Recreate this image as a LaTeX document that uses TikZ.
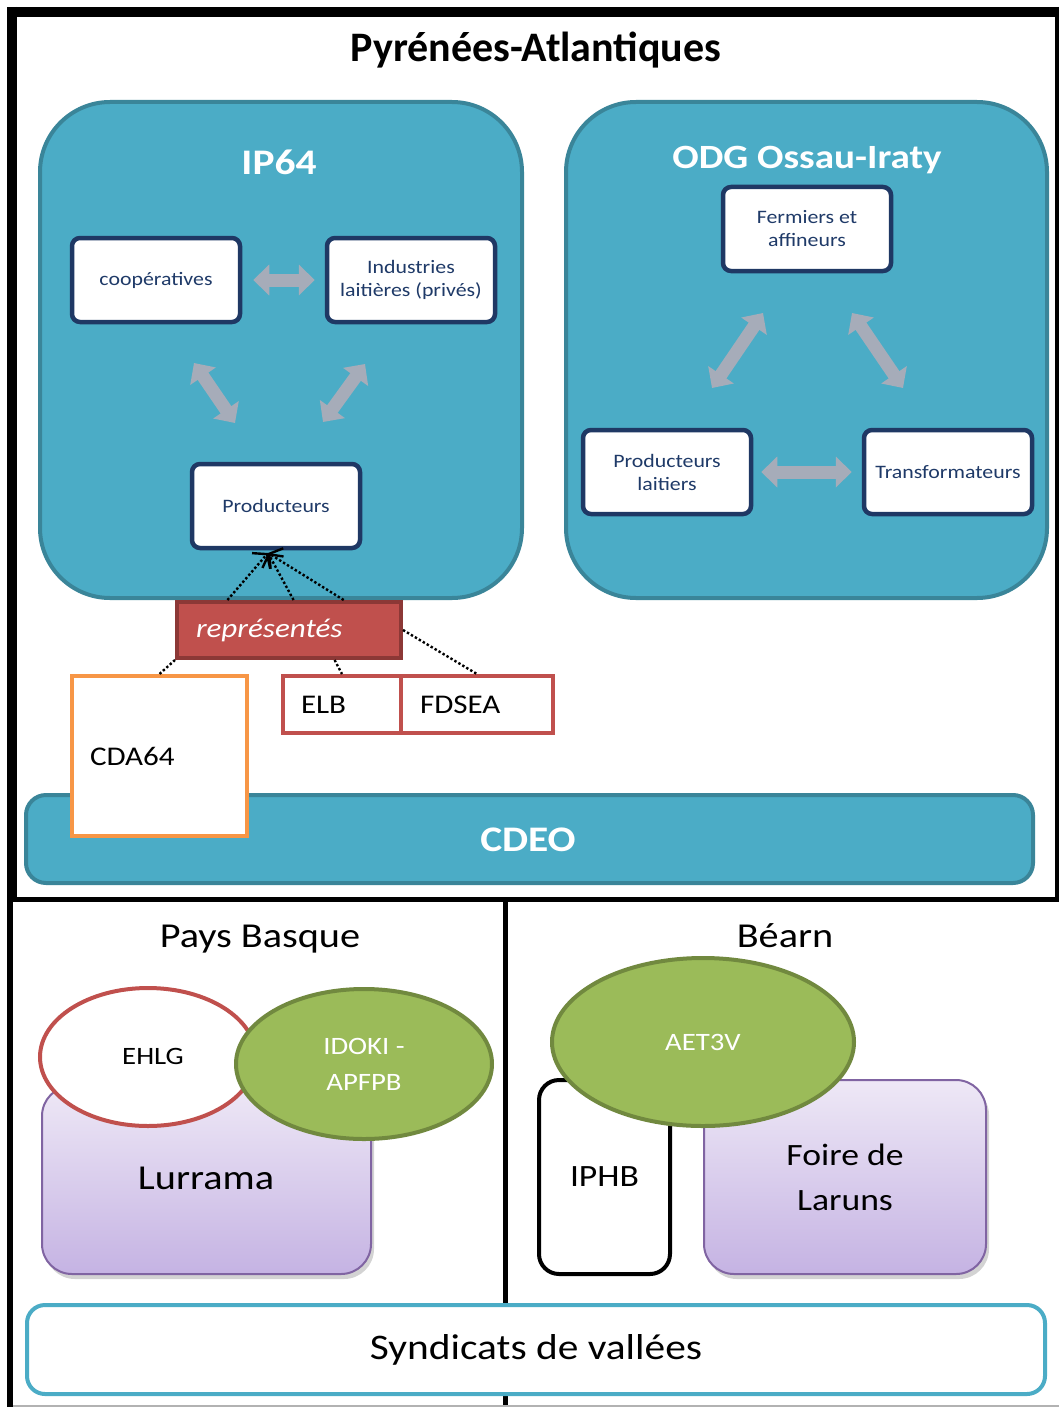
\documentclass[tikz,border=0pt]{standalone}
\usepackage{fontspec}
\setmainfont{Carlito}[FakeStretch=1.15]
\newfontfamily\titlefont{Carlito}
\usetikzlibrary{arrows.meta,calc,shapes.geometric,shadows}
\definecolor{aqua}{HTML}{4BACC6}
\definecolor{aquadark}{HTML}{3A8599}
\definecolor{navy}{HTML}{1F3864}
\definecolor{navytxt}{HTML}{1F3A68}
\definecolor{arrgray}{HTML}{A6ACB9}
\definecolor{redfill}{HTML}{C0504D}
\definecolor{reddark}{HTML}{8C3836}
\definecolor{orng}{HTML}{F79646}
\definecolor{grn}{HTML}{9BBB59}
\definecolor{grndark}{HTML}{71893F}
\definecolor{purp}{HTML}{8064A2}
\definecolor{purptop}{HTML}{EEE8F6}
\definecolor{purpbot}{HTML}{C5B3E3}
\begin{document}
\begin{tikzpicture}[x=1pt, y=-1pt,
    grp/.style={draw=aquadark, fill=aqua, line width=4pt, rounded corners=70pt, inner sep=0pt},
    hd/.style={text=white, font=\bfseries\fontsize{34}{40}\selectfont},
    box/.style={draw=navy, fill=white, line width=4.5pt, rounded corners=8pt, minimum width=168pt,
      minimum height=84pt, inner sep=0pt, align=center, text=navytxt, font=\fontsize{19}{23}\selectfont},
    dbl/.style={draw=arrgray, line width=13pt, {Triangle[width=30pt,length=16pt]}-{Triangle[width=30pt,length=16pt]}},
    lbl/.style={align=left, inner ysep=0pt, font=\fontsize{27}{32}\selectfont},
    pt/.style={line width=2.4pt, dash pattern=on 2.4pt off 2.2pt},
    oval/.style={ellipse, line width=4pt, inner sep=0pt, align=center, font=\fontsize{25}{36}\selectfont},
    lila/.style={draw=purp, line width=2pt, top color=purptop, bottom color=purpbot, rounded corners=30pt,
      drop shadow={shadow xshift=3pt, shadow yshift=-5pt, opacity=0.35}, inner sep=0pt, align=center},
    big/.style={font=\fontsize{35}{45}\selectfont}]
  \useasboundingbox (0,0) rectangle (1059,1407);
  % frames
  \draw[line width=10pt] (7,12.5) -- (1059,12.5);
  \draw[line width=10pt] (12,7) -- (12,901);
  \draw[line width=4pt] (1057,7) -- (1057,899);
  \draw[line width=5pt] (7,899) -- (1059,899);
  \draw[line width=6pt] (10,899) -- (10,1407);
  \draw[line width=5pt] (505.5,899) -- (505.5,1407);
  \draw[gray!60, line width=1.5pt] (13,1406) -- (1059,1406);
  \node[font=\titlefont\bfseries\fontsize{42}{50}\selectfont, anchor=base] (pa) at (536,62) {Pyrénées-Atlantiques};

  % IP64
  \node[grp, minimum width=482pt, minimum height=496pt] (ip) at (281,350) {};
  \node[hd, font=\bfseries\fontsize{36}{40}\selectfont] (iptl) at (279,162) {IP64};
  \node[box] (coop) at (156,280) {coopératives};
  \node[box] (indus) at (411,280) {Industries\\laitières (privés)};
  \node[box] (prod) at (276,506) {Producteurs};
  \coordinate (c1) at (194,363);
  \coordinate (c2) at (235,423);
  \coordinate (c3) at (365,364);
  \coordinate (c4) at (323,422);
  \draw[dbl, shorten <=11pt, shorten >=10pt] (coop.east) -- (indus.west);
  \draw[dbl] (c1) -- (c2);
  \draw[dbl] (c3) -- (c4);

  % ODG
  \node[grp, minimum width=481pt, minimum height=496pt] (odg) at (806.5,350) {};
  \node[hd] (odgtl) at (807,160) {ODG Ossau-Iraty};
  \node[box] (ferm) at (807,229) {Fermiers et\\affineurs};
  \node[box] (prodl) at (667,472) {Producteurs\\laitiers};
  \node[box] (transf) at (948,472) {Transformateurs};
  \coordinate (d1) at (763,313);
  \coordinate (d2) at (712,388);
  \coordinate (d3) at (852,313);
  \coordinate (d4) at (903,388);
  \draw[dbl] (d1) -- (d2);
  \draw[dbl] (d3) -- (d4);
  \draw[dbl, shorten <=8pt, shorten >=10pt] (prodl.east) -- (transf.west);

  % CDEO
  \node[draw=aquadark, fill=aqua, line width=4pt, rounded corners=20pt, minimum width=1007pt,
    minimum height=88pt, inner sep=0pt] (cdeo) at (529.5,839) {};
  \node[hd, font=\bfseries\fontsize{36}{40}\selectfont] (cdeotl) at (528,840) {CDEO};
  \node[lbl, draw=orng, fill=white, line width=4pt, minimum height=160pt, text width=139pt,
    inner xsep=18pt] (cda) at (159.5,756) {CDA64};

  % representes
  \node[lbl, draw=reddark, fill=redfill, line width=4pt, text=white, minimum height=56pt,
    text width=186pt, inner xsep=19pt, font=\itshape\fontsize{27}{32}\selectfont] (rep) at (289,630) {représentés};
  \node[lbl, draw=redfill, line width=4pt, minimum height=57pt, text width=82pt, inner xsep=18pt] (elb) at (342,704.5) {ELB};
  \node[lbl, draw=redfill, line width=4pt, minimum height=57pt, text width=114pt, inner xsep=19pt] (fdsea) at (477,704.5) {FDSEA};
  \coordinate (pin) at (268,553);
  \foreach \f in {0.23,0.52,0.74}
    \draw[pt, -{Straight Barb[length=9pt,width=24pt,line width=2.4pt]}] ($(rep.north west)!\f!(rep.north east)$) -- (pin);
  \draw[pt] (rep.south west) -- (cda.north);
  \draw[pt] ($(rep.south west)!0.7!(rep.south east)$) -- (elb.north);
  \draw[pt] (rep.east) -- (fdsea.north);

  % Pays Basque
  \node[big, anchor=base] (pb) at (260,947) {Pays Basque};
  \node[lila, big, minimum width=329pt, minimum height=188pt] (lur) at (206.5,1180) {};
  \node[big] (lurtl) at (206,1178) {Lurrama};
  \node[oval, draw=redfill, fill=white, minimum width=216pt, minimum height=138pt] (ehlg) at (148,1057) {};
  \node[font=\fontsize{25}{36}\selectfont] (ehlgtl) at (153,1056) {EHLG};
  \node[oval, draw=grndark, fill=grn, text=white, minimum width=256pt, minimum height=150pt] (idoki) at (364,1064) {IDOKI -\\APFPB};

  % Bearn
  \node[big, anchor=base] (be) at (785,947) {Béarn};
  \node[draw=black, fill=white, line width=4pt, rounded corners=20pt, minimum width=131pt,
    minimum height=194pt, inner sep=0pt, font=\fontsize{31}{40}\selectfont] (iphb) at (604.5,1177) {IPHB};
  \node[lila, minimum width=282pt, minimum height=194pt, font=\fontsize{31}{45}\selectfont] (foire) at (845,1177) {Foire de\\Laruns};
  \node[oval, draw=grndark, fill=grn, text=white, minimum width=302pt, minimum height=168pt] (aet) at (703,1042) {AET3V};

  % Syndicats
  \node[draw=aqua, fill=white, line width=4pt, rounded corners=18pt, minimum width=1018pt,
    minimum height=89pt, inner sep=0pt, font=\fontsize{36}{40}\selectfont] (synd) at (536,1349.5) {Syndicats de vallées};
\end{tikzpicture}
\end{document}
